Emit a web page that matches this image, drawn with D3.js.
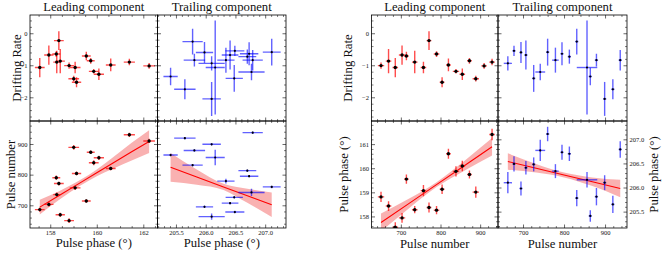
<!DOCTYPE html>
<html>
<head>
<meta charset="utf-8">
<script src="https://cdn.jsdelivr.net/npm/d3@7"></script>
<style>
  body { margin: 0; background: #fff; }
  svg, svg text { font-family: "Liberation Serif", "DejaVu Serif", "Times New Roman", serif; }
  svg { display: block; }
</style>
</head>
<body>
<svg id="chart" width="665" height="255"></svg>
<script>
// Leading component, one entry per pulse
const leadPulse    = [650, 669, 686, 703, 714, 735, 757, 771, 790, 804, 820, 839, 855, 873, 889, 910, 930];
const leadPulseErr = [8, 7, 7, 8, 6, 7, 7, 6, 7, 6, 6, 8, 7, 6, 8, 7, 7];
const leadPhase    = [158.81, 158.43, 157.55, 157.94, 159.55, 158.28, 159.07, 158.37, 158.26, 159.13, 160.6, 159.87, 160.09, 159.74, 159.01, 162.25, 161.4];
const leadPhaseErr = [0.21, 0.2, 0.21, 0.2, 0.19, 0.15, 0.23, 0.21, 0.17, 0.2, 0.21, 0.21, 0.22, 0.17, 0.23, 0.25, 0.24];
const leadDrift    = [-1.01, -0.87, -1.07, -0.68, -0.71, -0.9, -1.07, -0.23, -0.65, -1.53, -0.99, -1.19, -1.28, -0.86, -1.42, -1.02, -0.9];
const leadDriftErr = [0.1, 0.38, 0.3, 0.3, 0.13, 0.35, 0.18, 0.29, 0.09, 0.16, 0.2, 0.07, 0.18, 0.09, 0.09, 0.09, 0.1];

// Trailing component
const trailPulse    = [663, 678, 695, 707, 726, 742, 760, 779, 795, 813, 831, 856, 864, 879, 899, 919, 937];
const trailPulseErr = [10, 4, 4, 4, 4, 12, 4, 8, 4, 4, 4, 25, 4, 4, 4, 4, 4];
const trailPhase    = [206.1, 206.49, 205.98, 206.41, 206.48, 206.77, 207.11, 206.34, 206.73, 206.7, 205.78, 206.16, 205.41, 205.81, 206.1, 205.65, 206.79];
const trailPhaseErr = [0.22, 0.16, 0.145, 0.14, 0.145, 0.22, 0.15, 0.145, 0.155, 0.15, 0.17, 0.16, 0.12, 0.18, 0.155, 0.18, 0.17];
const trailDrift    = [-0.94, -0.55, -0.6, -0.68, -1.41, -1.21, -0.59, -0.84, -0.64, -0.73, -0.26, -1.07, -1.35, -0.84, -2.05, -1.75, -0.84];
const trailDriftErr = [0.22, 0.16, 0.33, 0.45, 0.42, 0.26, 0.42, 0.39, 0.36, 0.22, 0.4, 1.47, 0.27, 0.2, 0.53, 0.31, 0.32];

// Linear fits with confidence band
const fitA_x  = [157.55, 158.4, 159.3, 160.0, 160.7, 161.5, 162.25];   // pulse vs leading phase
const fitA_y  = [694, 733, 774, 806, 838, 875, 908];
const fitA_lo = [670, 719, 765, 795, 819, 846, 871];
const fitA_hi = [718, 747, 783, 817, 857, 904, 945];

const fitB_x  = [205.41, 205.85, 206.3, 206.7, 207.11];               // pulse vs trailing phase
const fitB_y  = [824, 792, 760, 731, 702];
const fitB_lo = [777, 767, 750, 708, 662];
const fitB_hi = [871, 817, 770, 754, 742];

const fitC_x  = [650, 720, 790, 860, 930];                             // leading phase vs pulse
const fitC_y  = [157.75, 158.53, 159.32, 160.1, 160.89];
const fitC_lo = [157.38, 158.33, 159.22, 159.9, 160.53];
const fitC_hi = [158.12, 158.73, 159.42, 160.3, 161.25];

const fitD_x  = [663, 732, 800, 869, 937];                             // trailing phase vs pulse
const fitD_y  = [206.54, 206.4, 206.26, 206.12, 205.98];
const fitD_lo = [206.37, 206.31, 206.21, 206.03, 205.8];
const fitD_hi = [206.71, 206.49, 206.31, 206.21, 206.16];

// Ticks
const driftTicks     = [-2, -1, 0];
const leadPhaseTicksA = [158, 160, 162];
const leadPhaseTicksB = [158, 159, 160, 161];
const trailPhaseTicks = [205.5, 206.0, 206.5, 207.0];
const pulseTicks     = [700, 800, 900];

const FONT = '"Liberation Serif", "DejaVu Serif", "Times New Roman", serif';

const leadPts = leadPulse.map((p, i) => ({
  pulse: p, pulseErr: leadPulseErr[i], phase: leadPhase[i], phaseErr: leadPhaseErr[i],
  drift: leadDrift[i], driftErr: leadDriftErr[i]
}));
const trailPts = trailPulse.map((p, i) => ({
  pulse: p, pulseErr: trailPulseErr[i], phase: trailPhase[i], phaseErr: trailPhaseErr[i],
  drift: trailDrift[i], driftErr: trailDriftErr[i]
}));

const svg = d3.select("#chart");
const defs = svg.append("defs");
let clipCount = 0;

const RED = "rgba(255,0,0,0.7)";
const BLUE = "rgba(0,0,255,0.62)";

function minorRange(lo, hi, step, majors) {
  const out = [];
  const start = Math.ceil(lo / step - 1e-9);
  const stop = Math.floor(hi / step + 1e-9);
  for (let k = start; k <= stop; k++) {
    const v = +(k * step).toFixed(6);
    if (!majors.some(m => Math.abs(m - v) < 1e-6)) out.push(v);
  }
  return out;
}

function panel(p) {
  const x = d3.scaleLinear().domain(p.xDomain).range([p.x0, p.x1]);
  const y = d3.scaleLinear().domain(p.yDomain).range([p.y1, p.y0]);
  const g = svg.append("g");

  const id = "clip" + (clipCount++);
  defs.append("clipPath").attr("id", id).append("rect")
    .attr("x", p.x0).attr("y", p.y0).attr("width", p.x1 - p.x0).attr("height", p.y1 - p.y0);
  const plot = g.append("g").attr("clip-path", `url(#${id})`);

  // confidence band + fit line
  if (p.fit) {
    const f = p.fit;
    const rows = f.x.map((v, i) => ({ x: v, y: f.y[i], lo: f.lo[i], hi: f.hi[i] }));
    plot.append("path")
      .datum(rows)
      .attr("d", d3.area().curve(d3.curveMonotoneX).x(d => x(d.x)).y0(d => y(d.lo)).y1(d => y(d.hi)))
      .attr("fill", "rgba(240,70,70,0.42)");
    plot.append("path")
      .datum(rows)
      .attr("d", d3.line().x(d => x(d.x)).y(d => y(d.y)))
      .attr("fill", "none").attr("stroke", "#ff0000").attr("stroke-width", 1.1);
  }

  // error bars
  const bars = plot.append("g").attr("stroke", p.color).attr("stroke-width", 1.4);
  p.data.forEach(d => {
    const cx = x(d[p.xKey]), cy = y(d[p.yKey]);
    bars.append("line")
      .attr("x1", x(d[p.xKey] - d[p.xKey + "Err"])).attr("x2", x(d[p.xKey] + d[p.xKey + "Err"]))
      .attr("y1", cy).attr("y2", cy);
    bars.append("line")
      .attr("x1", cx).attr("x2", cx)
      .attr("y1", y(d[p.yKey] - d[p.yKey + "Err"])).attr("y2", y(d[p.yKey] + d[p.yKey + "Err"]));
  });
  plot.append("g").selectAll("circle")
    .data(p.data)
    .enter()
    .append("circle")
    .attr("cx", d => x(d[p.xKey]))
    .attr("cy", d => y(d[p.yKey]))
    .attr("r", p.r)
    .attr("fill", "#000");

  // ticks on all four sides, pointing inward
  const xMinor = minorRange(p.xDomain[0], p.xDomain[1], p.xMinor, p.xTicks);
  const yMinor = minorRange(p.yDomain[0], p.yDomain[1], p.yMinor, p.yTicks);
  const axes = [
    [d3.axisBottom(x), p.y1, "y", p.xTicks, xMinor, p.xLabels ? p.xFormat : null],
    [d3.axisTop(x), p.y0, "y", p.xTicks, xMinor, null],
    [d3.axisLeft(y), p.x0, "x", p.yTicks, yMinor, p.yLabels === "left" ? p.yFormat : null],
    [d3.axisRight(y), p.x1, "x", p.yTicks, yMinor, p.yLabels === "right" ? p.yFormat : null]
  ];
  axes.forEach(([axis, pos, dir, major, minor, fmt]) => {
    const tr = dir === "y" ? `translate(0,${pos})` : `translate(${pos},0)`;
    const ga = g.append("g").attr("transform", tr)
      .call(axis.tickValues(major).tickSize(-3.5).tickPadding(2.5).tickFormat(fmt ? fmt : ""));
    ga.attr("font-family", FONT).attr("font-size", 6.5);
    ga.select(".domain").remove();
    ga.selectAll("line").attr("stroke", "#000").attr("stroke-width", 0.6);
    ga.selectAll("text").attr("fill", "#111");
    const gm = g.append("g").attr("transform", tr)
      .call(axis.tickValues(minor).tickSize(-2).tickFormat(""));
    gm.select(".domain").remove();
    gm.selectAll("line").attr("stroke", "#000").attr("stroke-width", 0.5);
  });

  g.append("rect")
    .attr("x", p.x0).attr("y", p.y0).attr("width", p.x1 - p.x0).attr("height", p.y1 - p.y0)
    .attr("fill", "none").attr("stroke", "#000").attr("stroke-width", 0.8);
}

const fmtInt = d3.format("d");
const fmtDrift = d3.format("d");
const fmt1 = d3.format(".1f");

const T0 = 15, TM = 121, B1 = 228;
const driftDomain = [-2.74, 0.57];

// ---- left group: against pulse phase ----
const L0 = 30, LM = 157.5, L1 = 286;
const leftPulseDomain = [626, 975];
const leftLeadPhDomain = [157.13, 162.61];
const leftTrailPhDomain = [205.19, 207.35];

panel({ x0: L0, x1: LM, y0: T0, y1: TM, xDomain: leftLeadPhDomain, yDomain: driftDomain,
  data: leadPts, xKey: "phase", yKey: "drift", color: RED, r: 1.7,
  xTicks: leadPhaseTicksA, xMinor: 0.5, yTicks: driftTicks, yMinor: 0.2,
  yLabels: "left", yFormat: fmtDrift });
panel({ x0: LM, x1: L1, y0: T0, y1: TM, xDomain: leftTrailPhDomain, yDomain: driftDomain,
  data: trailPts, xKey: "phase", yKey: "drift", color: BLUE, r: 1.1,
  xTicks: trailPhaseTicks, xMinor: 0.1, yTicks: driftTicks, yMinor: 0.2 });
panel({ x0: L0, x1: LM, y0: TM, y1: B1, xDomain: leftLeadPhDomain, yDomain: leftPulseDomain,
  data: leadPts, xKey: "phase", yKey: "pulse", color: RED, r: 1.7,
  fit: { x: fitA_x, y: fitA_y, lo: fitA_lo, hi: fitA_hi },
  xTicks: leadPhaseTicksA, xMinor: 0.5, yTicks: pulseTicks, yMinor: 20,
  xLabels: true, xFormat: fmtInt, yLabels: "left", yFormat: fmtInt });
panel({ x0: LM, x1: L1, y0: TM, y1: B1, xDomain: leftTrailPhDomain, yDomain: leftPulseDomain,
  data: trailPts, xKey: "phase", yKey: "pulse", color: BLUE, r: 1.1,
  fit: { x: fitB_x, y: fitB_y, lo: fitB_lo, hi: fitB_hi },
  xTicks: trailPhaseTicks, xMinor: 0.1, yTicks: pulseTicks, yMinor: 20,
  xLabels: true, xFormat: fmt1 });

// ---- right group: against pulse number ----
const R0 = 371.5, RM = 498, R1 = 627;
const rightLeadPulseDomain = [626, 945];
const rightTrailPulseDomain = [639, 953.5];
const rightLeadPhDomain = [157.52, 161.96];
const rightTrailPhDomain = [205.16, 207.38];

panel({ x0: R0, x1: RM, y0: T0, y1: TM, xDomain: rightLeadPulseDomain, yDomain: driftDomain,
  data: leadPts, xKey: "pulse", yKey: "drift", color: RED, r: 1.7,
  xTicks: pulseTicks, xMinor: 20, yTicks: driftTicks, yMinor: 0.2,
  yLabels: "left", yFormat: fmtDrift });
panel({ x0: RM, x1: R1, y0: T0, y1: TM, xDomain: rightTrailPulseDomain, yDomain: driftDomain,
  data: trailPts, xKey: "pulse", yKey: "drift", color: BLUE, r: 1.1,
  xTicks: pulseTicks, xMinor: 20, yTicks: driftTicks, yMinor: 0.2 });
panel({ x0: R0, x1: RM, y0: TM, y1: B1, xDomain: rightLeadPulseDomain, yDomain: rightLeadPhDomain,
  data: leadPts, xKey: "pulse", yKey: "phase", color: RED, r: 1.7,
  fit: { x: fitC_x, y: fitC_y, lo: fitC_lo, hi: fitC_hi },
  xTicks: pulseTicks, xMinor: 20, yTicks: leadPhaseTicksB, yMinor: 0.2,
  xLabels: true, xFormat: fmtInt, yLabels: "left", yFormat: fmtInt });
panel({ x0: RM, x1: R1, y0: TM, y1: B1, xDomain: rightTrailPulseDomain, yDomain: rightTrailPhDomain,
  data: trailPts, xKey: "pulse", yKey: "phase", color: BLUE, r: 1.1,
  fit: { x: fitD_x, y: fitD_y, lo: fitD_lo, hi: fitD_hi },
  xTicks: pulseTicks, xMinor: 20, yTicks: trailPhaseTicks, yMinor: 0.1,
  xLabels: true, xFormat: fmtInt, yLabels: "right", yFormat: fmt1 });

// ---- titles and axis labels ----
function label(txt, x, y, rot) {
  svg.append("text")
    .attr("transform", `translate(${x},${y})` + (rot ? ` rotate(${rot})` : ""))
    .attr("text-anchor", "middle")
    .attr("font-family", FONT)
    .attr("font-size", 12.7)
    .attr("fill", "#111")
    .text(txt);
}
label("Leading component", (L0 + LM) / 2, 10.5);
label("Trailing component", (LM + L1) / 2, 10.5);
label("Leading component", (R0 + RM) / 2, 10.5);
label("Trailing component", (RM + R1) / 2, 10.5);

label("Drifting Rate", 21, (T0 + TM) / 2, -90);
label("Pulse number", 15, (TM + B1) / 2, -90);
label("Pulse phase (\u00b0)", (L0 + LM) / 2, 246.5);
label("Pulse phase (\u00b0)", (LM + L1) / 2, 246.5);

label("Drifting Rate", 352, (T0 + TM) / 2, -90);
label("Pulse phase (\u00b0)", 348, (TM + B1) / 2, -90);
label("Pulse number", (R0 + RM) / 2, 247.5);
label("Pulse number", (RM + R1) / 2, 247.5);
label("Pulse phase (\u00b0)", 658, (TM + B1) / 2, -90);
</script>
</body>
</html>
